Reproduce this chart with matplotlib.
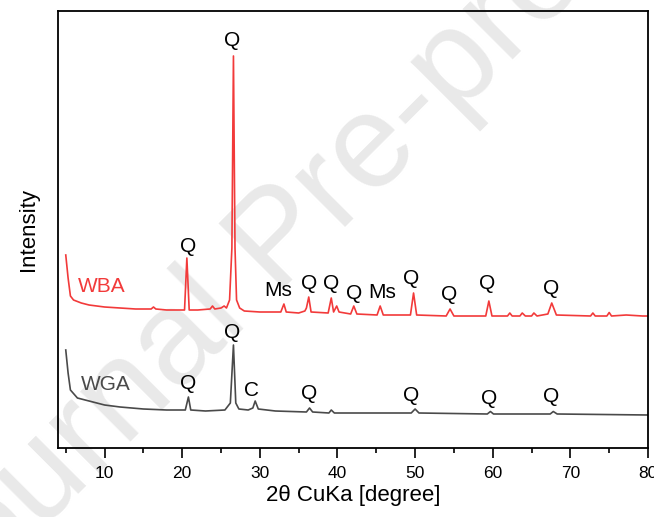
import numpy as np
import matplotlib
matplotlib.use("Agg")
import matplotlib.pyplot as plt
from matplotlib.ticker import MultipleLocator

plt.rcParams['font.family'] = ['Liberation Sans', 'DejaVu Sans']

# WBA pattern (2theta, intensity a.u.)
wba_x = [5.0, 5.3, 5.6, 6.0, 7.0, 8.0, 10.0, 12.0, 14.0, 16.0, 16.3, 16.6, 18.0,
         20.3, 20.6, 20.9, 22.0, 23.6, 23.9, 24.2, 25.0, 25.4, 25.7, 26.1, 26.4, 26.6, 26.8, 27.0, 27.4, 28.0,
         30.0, 32.7, 33.1, 33.4, 35.0, 35.8, 36.0, 36.3, 36.6, 38.8, 39.2, 39.5, 39.9, 40.2,
         41.7, 42.1, 42.5, 45.1, 45.5, 45.9, 49.4, 49.8, 50.2, 54.0, 54.5, 55.0,
         59.1, 59.5, 59.9, 61.9, 62.2, 62.5, 63.5, 63.8, 64.2, 65.0, 65.3, 65.7,
         67.1, 67.6, 68.2, 72.6, 72.9, 73.2, 74.7, 75.0, 75.3, 77.2, 79.3, 80.0]
wba_y = [193, 170, 152, 148, 145, 143, 141, 140, 139, 139, 141, 139, 138,
         138, 190, 138, 138, 139, 142, 139, 140, 142, 140, 148, 200, 392, 200, 148, 140, 137,
         136, 136, 144, 136, 135, 137, 140, 151, 136, 135, 150, 136, 142, 136,
         134, 142, 134, 133, 142, 133, 133, 155, 133, 132, 139, 132,
         132, 147, 132, 132, 135, 132, 132, 135, 132, 132, 135, 132,
         134, 145, 133, 132, 135, 132, 132, 135.5, 132, 133, 132, 132]

# WGA pattern
wga_x = [5.0, 5.3, 5.6, 6.5, 8.0, 10.0, 12.0, 15.0, 18.0,
         20.4, 20.8, 21.1, 23.0, 25.5, 26.2, 26.6, 26.9, 27.3, 28.5, 29.1, 29.4, 29.8,
         32.0, 36.0, 36.4, 36.8, 38.9, 39.2, 39.6, 49.5, 50.0, 50.5,
         59.3, 59.7, 60.1, 67.4, 67.8, 68.3, 80.0]
wga_y = [98, 75, 58, 50, 47, 43, 41, 39, 38,
         38, 51, 38, 37, 38, 45, 103, 45, 39, 38, 40, 47, 39,
         37, 36, 40, 36, 35, 38, 35, 35, 39, 35,
         34, 36.5, 34, 34, 36.5, 34, 33]

# phase labels: (text, 2theta, baseline height)
wba_labels = [("Q", 20.8, 195.5), ("Q", 26.4, 402.5), ("Ms", 32.4, 151.5), ("Q", 36.3, 158.8),
              ("Q", 39.2, 158.8), ("Q", 42.2, 148.8), ("Ms", 45.7, 150.5), ("Q", 49.5, 163.8),
              ("Q", 54.4, 147.5), ("Q", 59.3, 158.8), ("Q", 67.5, 153.8)]
wga_labels = [("Q", 20.7, 58.8), ("Q", 26.4, 110.5), ("C", 28.9, 52.5), ("Q", 36.3, 48.8),
              ("Q", 49.5, 47.2), ("Q", 59.5, 43.8), ("Q", 67.5, 45.5)]

red = '#f23a3a'
grey = '#4a4a4a'

fig = plt.figure(figsize=(6.54, 5.17), dpi=100)
ax = fig.add_axes([58 / 654, (517 - 448) / 517, 590 / 654, 437 / 517])

# watermark
fig.text(0.43, 0.53, "Journal Pre-proof", fontsize=96, color='#e9e9e9',
         rotation=45, ha='center', va='center', zorder=-1)
ax.patch.set_alpha(0)

ax.plot(wba_x, wba_y, color=red, lw=1.2)
ax.plot(wga_x, wga_y, color=grey, lw=1.2)

for t, x, y in wba_labels + wga_labels:
    ax.text(x, y, t, fontsize=15, ha='center', va='baseline')

ax.text(6.6, 156.5, "WBA", color=red, fontsize=15, ha='left', va='baseline')
ax.text(7.0, 57.5, "WGA", color=grey, fontsize=15, ha='left', va='baseline')

ax.set_xlim(4, 80)
ax.set_ylim(0, 437)
ax.xaxis.set_major_locator(MultipleLocator(10))
ax.xaxis.set_minor_locator(MultipleLocator(5))
ax.tick_params(axis='x', which='major', direction='out', length=7, width=1.2,
               labelsize=12.5, pad=6)
ax.tick_params(axis='x', which='minor', direction='out', length=3.6, width=1.2)
ax.set_yticks([])
for s in ax.spines.values():
    s.set_linewidth(1.3)
ax.set_xlabel("2θ CuKa [degree]", fontsize=16, labelpad=3)
ax.set_ylabel("Intensity", fontsize=16, labelpad=14)

fig.savefig("out.png", dpi=100)
